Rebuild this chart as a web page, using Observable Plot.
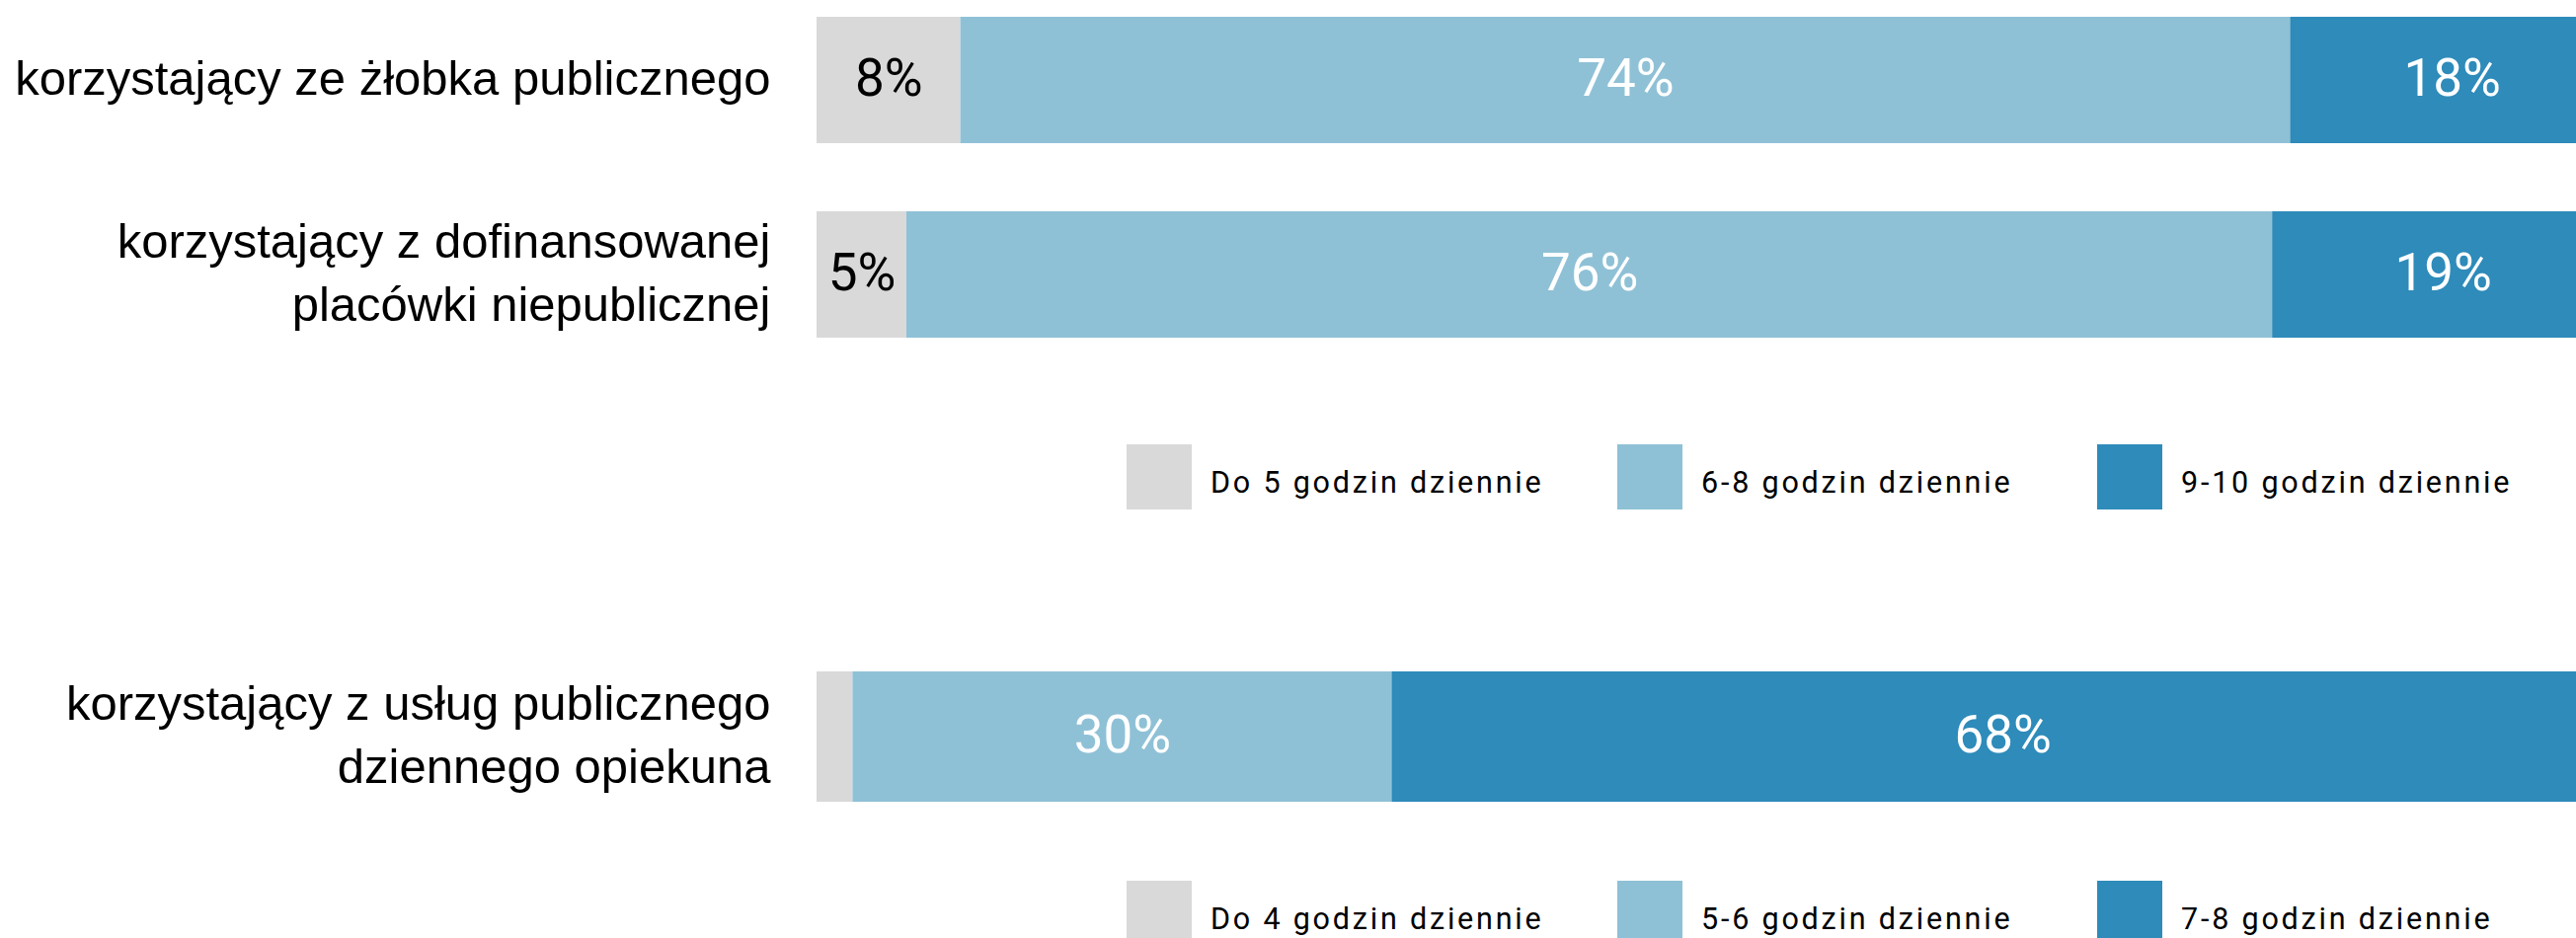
<!DOCTYPE html>
<html>
<head>
<meta charset="utf-8">
<script src="https://cdn.jsdelivr.net/npm/d3@7"></script>
<script src="https://cdn.jsdelivr.net/npm/@observablehq/plot@0.6"></script>
<style>
  html, body { margin: 0; padding: 0; background: #fff; overflow: hidden; width: 2609px; height: 950px; }
  .legend { position: relative; width: 2609px; }
  .item { position: absolute; display: flex; align-items: center; }
  .sw { width: 66px; height: 66px; flex: none; }
  .lbl { font-family: Roboto, sans-serif; font-size: 30.5px; letter-spacing: 2.8px; color: #000; margin-left: 19px; padding-top: 10px; white-space: nowrap; }
</style>
</head>
<body>
<div id="root"></div>
<script>
// ---- data ----
const groups1 = ["korzystający ze żłobka publicznego", "korzystający z dofinansowanej\nplacówki niepublicznej"];
const hours1 = ["Do 5 godzin dziennie", "6-8 godzin dziennie", "9-10 godzin dziennie"];
const publicCreche = [8, 74, 18];
const subsidizedPrivate = [5, 76, 19];

const groups2 = ["korzystający z usług publicznego\ndziennego opiekuna"];
const hours2 = ["Do 4 godzin dziennie", "5-6 godzin dziennie", "7-8 godzin dziennie"];
const dayCarer = [2, 30, 68];

const colors = ["#d9d9d9", "#8fc1d6", "#2e8bba"];
const legendLeft = [1141, 1638, 2124];

function rows(groups, hours, seriesList) {
  const out = [];
  groups.forEach((g, gi) => {
    seriesList[gi].forEach((v, si) => out.push({group: g, hours: hours[si], idx: si, value: v}));
  });
  return out;
}

function chart(data, groups, hours, height, yRange, paddingInner) {
  return Plot.plot({
    width: 2609,
    height,
    marginLeft: 827,
    marginRight: 0,
    marginTop: 0,
    marginBottom: 0,
    style: {overflow: "hidden", background: "white"},
    x: {domain: [0, 100], range: [827, 2647], axis: null},
    y: {domain: groups, range: yRange, paddingInner, paddingOuter: 0, axis: null},
    color: {domain: hours, range: colors},
    marks: [
      Plot.barX(data, {x: "value", y: "group", fill: "hours", order: null, inset: 0}),
      Plot.text(data, Plot.stackX({
        x: "value", y: "group", z: "hours", order: null,
        text: d => d.value >= 5 ? d.value + "%" : "",
        fill: d => d.idx === 0 ? "#000" : "#fff",
        fontSize: 53, fontFamily: "Roboto, sans-serif", dy: -1
      })),
      Plot.text(groups, {
        y: d => d, text: d => d, frameAnchor: "left", textAnchor: "end",
        dx: -47, dy: -6, fontSize: 49, lineHeight: 1.31,
        fontFamily: "Liberation Sans, Arial, sans-serif", fill: "#000"
      })
    ]
  });
}

function legend(hours, height, top) {
  const div = document.createElement("div");
  div.className = "legend";
  div.style.height = height + "px";
  hours.forEach((h, i) => {
    const it = document.createElement("div");
    it.className = "item";
    it.style.left = legendLeft[i] + "px";
    it.style.top = top + "px";
    const sw = document.createElement("div");
    sw.className = "sw";
    sw.style.background = colors[i];
    const t = document.createElement("span");
    t.className = "lbl";
    t.textContent = h;
    it.appendChild(sw);
    it.appendChild(t);
    div.appendChild(it);
  });
  return div;
}

const root = document.getElementById("root");
root.appendChild(chart(rows(groups1, hours1, [publicCreche, subsidizedPrivate]), groups1, hours1, 420, [16, 343], 0.348));
root.appendChild(legend(hours1, 140, 30));
root.appendChild(chart(rows(groups2, hours2, [dayCarer]), groups2, hours2, 300, [120, 252], 0));
root.appendChild(legend(hours2, 90, 32));
</script>
</body>
</html>
